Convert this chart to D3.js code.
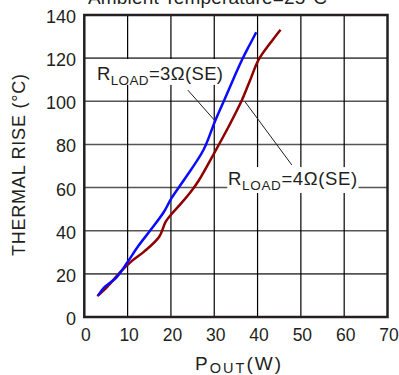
<!DOCTYPE html>
<html>
<head>
<meta charset="utf-8">
<script src="https://cdn.jsdelivr.net/npm/d3@7"></script>
<style>
  body { margin: 0; background: #fff; }
  svg { display: block; font-family: Arial, "Liberation Sans", sans-serif; }
</style>
</head>
<body>
<svg id="chart" width="399" height="375"></svg>
<script>
// values
const xTicks = [0, 10, 20, 30, 40, 50, 60, 70];
const yTicks = [0, 20, 40, 60, 80, 100, 120, 140];

const pout3 = [3.2, 4.5, 7.5, 10, 12.5, 15.3, 18.4, 20.1, 23, 27.5, 30.2, 32.4, 34.5, 36.5, 38, 39.7];
const rise3 = [10, 13.5, 18.5, 25.5, 33, 40.3, 48.8, 55, 63.5, 77.4, 90.9, 101, 110.7, 119.6, 125.5, 132];

const pout4 = [3.0, 5.3, 8.4, 11, 13.8, 17.3, 18.8, 20.1, 22.5, 24.9, 26.5, 30, 33.3, 36.4, 38.3, 40.2, 42.9, 45.3];
const rise4 = [9.7, 14, 21, 26, 30.3, 37.2, 44.2, 47.6, 53, 58.9, 63.5, 76, 88.2, 100.6, 109.9, 119.1, 126.9, 133.2];

const labels = ["=3Ω(SE)", "=4Ω(SE)"];

const svg = d3.select("#chart");
const x = d3.scaleLinear().domain([0, 70]).range([84.3, 387.5]);
const y = d3.scaleLinear().domain([0, 140]).range([317, 15]);
const ink = "#231f20";

// title, clipped by the top edge like the source
svg.append("text")
  .attr("x", 88).attr("y", 4)
  .attr("font-size", 19).attr("fill", ink)
  .attr("textLength", 239)
  .text("Ambient Temperature=25°C");

// grid
svg.append("g").selectAll("line")
  .data(yTicks.slice(1, -1))
  .join("line")
  .attr("x1", x(0)).attr("x2", x(70))
  .attr("y1", d => y(d)).attr("y2", d => y(d))
  .attr("stroke", "#555").attr("stroke-width", 1.6);

svg.append("g").selectAll("line")
  .data(xTicks.slice(1, -1))
  .join("line")
  .attr("x1", d => x(d)).attr("x2", d => x(d))
  .attr("y1", y(0)).attr("y2", y(140))
  .attr("stroke", "#000").attr("stroke-width", 1.2);

// label boxes hide the grid behind them
const box3 = {x0: 0.6, x1: 32.4, y0: 107.6, y1: 119.6};
const box4 = {x0: 33.0, x1: 63.3, y0: 57.5, y1: 69.5};
[box3, box4].forEach(b => {
  svg.append("rect")
    .attr("x", x(b.x0)).attr("y", y(b.y1))
    .attr("width", x(b.x1) - x(b.x0)).attr("height", y(b.y0) - y(b.y1))
    .attr("fill", "#fff");
});

// leader lines
svg.append("line")
  .attr("x1", x(23.9)).attr("y1", y(105.2)).attr("x2", x(30.2)).attr("y2", y(90.9))
  .attr("stroke", ink).attr("stroke-width", 1);
svg.append("line")
  .attr("x1", x(37.1)).attr("y1", y(99.8)).attr("x2", x(47.9)).attr("y2", y(70.5))
  .attr("stroke", ink).attr("stroke-width", 1);

// curves
const line = d3.line().x(d => x(d[0])).y(d => y(d[1])).curve(d3.curveCatmullRom);
svg.append("path")
  .datum(d3.zip(pout4, rise4))
  .attr("d", line)
  .attr("fill", "none").attr("stroke", "#8e0000").attr("stroke-width", 2.5);
svg.append("path")
  .datum(d3.zip(pout3, rise3))
  .attr("d", line)
  .attr("fill", "none").attr("stroke", "#0a0aff").attr("stroke-width", 2.5);

// frame
svg.append("rect")
  .attr("x", x(0)).attr("y", y(140))
  .attr("width", x(70) - x(0)).attr("height", y(0) - y(140))
  .attr("fill", "none").attr("stroke", ink).attr("stroke-width", 2.5);

// annotation text
function rload(tx, ty, tail, w) {
  const t = svg.append("text")
    .attr("x", x(tx)).attr("y", y(ty))
    .attr("font-size", 18.5).attr("fill", ink)
    .attr("textLength", w);
  t.append("tspan").text("R");
  t.append("tspan").attr("font-size", 13.5).attr("dy", 5).text("LOAD");
  t.append("tspan").attr("dy", -5).text(tail);
}
rload(2.94, 109.9, labels[0], 126);
rload(33.2, 61.2, labels[1], 129);

// tick labels
svg.append("g").selectAll("text")
  .data(xTicks)
  .join("text")
  .attr("x", d => x(d) + 1.5).attr("y", 341)
  .attr("text-anchor", "middle")
  .attr("font-size", 17.5).attr("fill", ink)
  .text(d => d);

svg.append("g").selectAll("text")
  .data(yTicks)
  .join("text")
  .attr("x", 76).attr("y", d => y(d) + 8)
  .attr("text-anchor", "end")
  .attr("font-size", 18).attr("fill", ink)
  .text(d => d);

// axis titles
const xt = svg.append("text")
  .attr("x", 195).attr("y", 369.5)
  .attr("font-size", 19).attr("fill", ink)
  .attr("textLength", 86);
xt.append("tspan").text("P");
xt.append("tspan").attr("font-size", 14.5).attr("dy", 3.5).text("OUT");
xt.append("tspan").attr("dy", -3.5).text("(W)");

svg.append("text")
  .attr("transform", "translate(25,165) rotate(-90)")
  .attr("text-anchor", "middle")
  .attr("font-size", 18).attr("fill", ink)
  .attr("textLength", 182)
  .text("THERMAL RISE (°C)");
</script>
</body>
</html>
